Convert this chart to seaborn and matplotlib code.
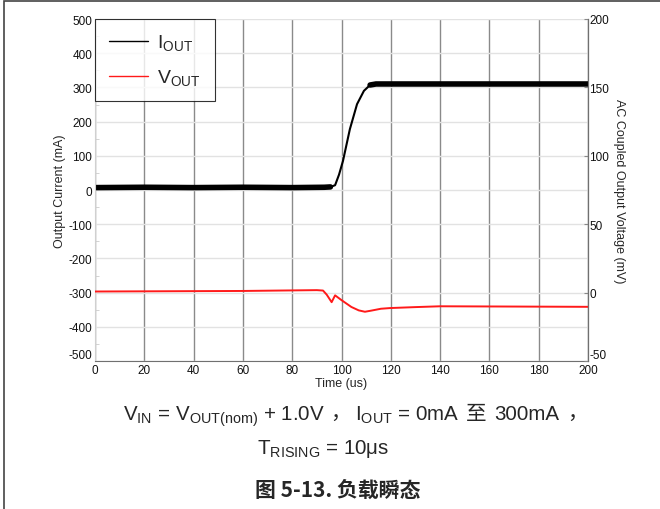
import matplotlib
matplotlib.use("Agg")
import matplotlib.pyplot as plt
import pandas as pd
import seaborn as sns
from matplotlib.patches import Rectangle
from matplotlib.ticker import MultipleLocator

# load current (left axis, mA)
i_time = [0, 20, 40, 60, 80, 93, 95.5, 97.4, 99, 100.6, 103.4, 106.3, 109.1, 111.6, 114, 140, 170, 200]
i_out = [7, 8, 7, 8, 7, 8, 9, 14, 45, 85, 178, 251, 290, 307, 310, 310, 310, 310]

# AC coupled output voltage (right axis, mV)
v_time = [0, 30, 60, 80, 90, 92.5, 94, 96, 97.4, 100, 104, 107, 109.5, 112, 116, 119.7, 130, 140, 170, 200]
v_out = [0.8, 1.0, 1.2, 1.6, 1.8, 1.5, -1.5, -7.0, -2.0, -5.5, -10.5, -13.0, -14.0, -13.2, -11.8, -11.3, -10.6, -10.0, -10.2, -10.4]

x_ticks = list(range(0, 201, 20))
left_ticks = list(range(-500, 501, 100))
right_ticks = list(range(-50, 201, 50))

sns.set_style("white")
LATIN = ["Liberation Sans", "DejaVu Sans"]
CJK = ["Noto Sans CJK SC", "Liberation Sans"]
plt.rcParams["font.family"] = LATIN
plt.rcParams["mathtext.fontset"] = "custom"
plt.rcParams["mathtext.rm"] = "Liberation Sans"
plt.rcParams["axes.unicode_minus"] = False

fig = plt.figure(figsize=(6.6, 5.1), dpi=100)
ax = fig.add_axes([95 / 660, 148 / 510, 493 / 660, 342 / 510])
ax2 = ax.twinx()

cur = pd.DataFrame({"t": i_time, "i": i_out})
vol = pd.DataFrame({"t": v_time, "v": v_out})
sns.lineplot(data=cur, x="t", y="i", ax=ax, color="black", lw=1.5, label=r"I$_{\mathregular{OUT}}$", legend=False)
# noisy flat stretches look like a thick band
sns.lineplot(data=cur[cur.t <= 95.5], x="t", y="i", ax=ax, color="black", lw=4, legend=False)
sns.lineplot(data=cur[cur.t >= 111.6], x="t", y="i", ax=ax, color="black", lw=4, legend=False)
sns.lineplot(data=vol, x="t", y="v", ax=ax2, color="#ff1a1a", lw=1.4, label=r"V$_{\mathregular{OUT}}$", legend=False)

ax.set_xlim(0, 200)
ax.set_ylim(-500, 500)
ax2.set_ylim(-50, 200)
ax.set_xticks(x_ticks)
ax.set_yticks(left_ticks)
ax2.set_yticks(right_ticks)
ax.yaxis.set_minor_locator(MultipleLocator(50))

ax.grid(axis="y", color="#e2e2e2", lw=1.0)
ax.grid(axis="x", color="#8a8a8a", lw=1.0)
ax.set_axisbelow(True)

ax.tick_params(axis="both", labelsize=8.5, length=0, pad=2, colors="#111111")
ax.tick_params(axis="y", which="minor", direction="in", length=3, color="#cccccc")
ax2.tick_params(axis="y", labelsize=8.5, length=3, direction="in", pad=1, colors="#111111")
ax2.tick_params(axis="y", color="#888888")

ax.spines["top"].set_visible(False)
ax2.spines["top"].set_visible(False)
ax.spines["left"].set_color("#d0d0d0")
ax.spines["bottom"].set_color("#707070")
ax2.spines["right"].set_color("#707070")
ax2.spines["left"].set_visible(False)
ax2.spines["bottom"].set_visible(False)

# bottom y labels sit on the axis line
ax.get_yticklabels()[0].set_va("bottom")
ax2.get_yticklabels()[0].set_va("bottom")

ax.set_xlabel("Time (us)", fontsize=9, labelpad=1)
ax.set_ylabel("Output Current (mA)", fontsize=9, labelpad=2)
ax2.set_ylabel("AC Coupled Output Voltage (mV)", fontsize=9, rotation=270, labelpad=11)

h1, l1 = ax.get_legend_handles_labels()
h2, l2 = ax2.get_legend_handles_labels()
leg = ax2.legend(h1[:1] + h2, l1[:1] + l2, loc="upper left", bbox_to_anchor=(0, 1), borderaxespad=0,
                 fontsize=14, frameon=True, fancybox=False, edgecolor="black",
                 handlelength=2.0, handletextpad=0.5, labelspacing=0.75, borderpad=0.7)
leg.get_frame().set_linewidth(0.8)
for ln in leg.get_lines():
    ln.set_linewidth(1.0)


def text_line(pieces, xc, y_base, size):
    # pieces: (text, family, gap_after_px); laid out left to right, centred on xc
    objs = []
    for s, fam, gap in pieces:
        objs.append((fig.text(0, 1 - y_base / 510, s, ha="left", va="baseline", fontsize=size, family=fam), gap))
    fig.canvas.draw()
    r = fig.canvas.get_renderer()
    widths = [t.get_window_extent(r).width for t, _ in objs]
    total = sum(widths) + sum(g for _, g in objs[:-1])
    x = xc - total / 2
    for (t, g), w in zip(objs, widths):
        t.set_x(x / 660)
        x += w + g


text_line([(r"V$_{\mathregular{IN}}$ = V$_{\mathregular{OUT(nom)}}$ + 1.0V", LATIN, 6),
           ("，", CJK, 4),
           (r"I$_{\mathregular{OUT}}$ = 0mA", LATIN, 7),
           ("至", CJK, 7),
           ("300mA", LATIN, 8),
           ("，", CJK, 0)], 355, 420, 14.8)
text_line([(r"T$_{\mathregular{RISING}}$ = 10μs", LATIN, 0)], 323, 454, 14.8)
fig.text(338 / 660, 1 - 490 / 510, "图 5-13. 负载瞬态", ha="center", va="center", fontsize=15,
         fontweight="bold", family=CJK)

fig.patches.append(Rectangle((4 / 660, -0.1), 1.2, 1.1 - 1.5 / 510, transform=fig.transFigure,
                             fill=False, edgecolor="#444444", lw=1.2))

fig.savefig("out.png", dpi=100)
